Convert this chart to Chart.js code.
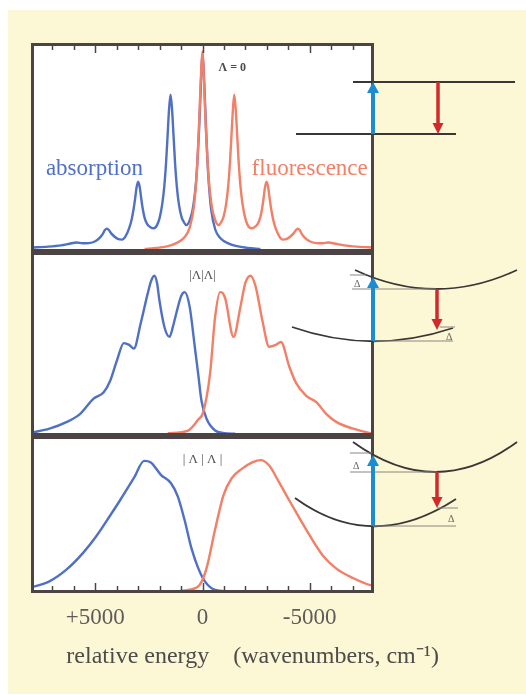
<!DOCTYPE html>
<html><head><meta charset="utf-8">
<script src="https://cdn.jsdelivr.net/npm/chart.js@4.4.1/dist/chart.umd.min.js"></script>
<style>
html,body{margin:0;padding:0;background:#fff;}
#wrap{position:relative;width:526px;height:695px;overflow:hidden;background:#fff;}
#bg{position:absolute;left:8px;top:10px;width:518px;height:684px;background:#fcf7d4;}
canvas{position:absolute;}
#c1{left:31px;top:43px;}
#c2{left:31px;top:252px;}
#c3{left:31px;top:436px;}
svg{position:absolute;left:0;top:0;}
</style></head>
<body><div id="wrap"><div id="bg"></div>
<canvas id="c1" width="343" height="209"></canvas>
<canvas id="c2" width="343" height="184"></canvas>
<canvas id="c3" width="443" height="237"></canvas>
<svg width="526" height="695" viewBox="0 0 526 695">
  <g stroke="#3a3636" stroke-width="1.8" fill="none">
    <line x1="353" y1="82" x2="515" y2="82"/>
    <line x1="296" y1="134" x2="456" y2="134"/>
    <path d="M355,270 Q436,308 517,270"/>
    <path d="M292,327 Q372,355 453,328"/>
    <path d="M353,442 Q436,502 517,442"/>
    <path d="M295,498 Q372,554 456,499"/>
  </g>
  <g stroke="#8a8680" stroke-width="1" fill="none">
    <line x1="352" y1="289" x2="436" y2="289"/>
    <line x1="350" y1="275" x2="366" y2="275"/>
    <line x1="373" y1="341" x2="453" y2="341"/>
    <line x1="440" y1="327" x2="455" y2="327"/>
    <line x1="350" y1="472" x2="437" y2="472"/>
    <line x1="350" y1="453" x2="372" y2="453"/>
    <line x1="437" y1="508" x2="458" y2="508"/>
    <line x1="373" y1="526" x2="456" y2="526"/>
  </g>
  <g font-family="Liberation Serif, serif" font-size="10" fill="#666">
    <text x="354" y="287">Δ</text>
    <text x="446" y="340">Δ</text>
    <text x="353" y="469">Δ</text>
    <text x="448" y="522">Δ</text>
  </g>
  <g stroke="#1b8cd2" stroke-width="4" fill="#1b8cd2">
    <line x1="373" y1="134" x2="373" y2="92"/>
    <polygon points="373,82 367,93 379,93" stroke="none"/>
    <line x1="373" y1="341" x2="373" y2="287"/>
    <polygon points="373,277 367,288 379,288" stroke="none"/>
    <line x1="373" y1="526" x2="373" y2="465"/>
    <polygon points="373,455 367,466 379,466" stroke="none"/>
  </g>
  <g stroke="#d3292b" stroke-width="3.5" fill="#d3292b">
    <line x1="438" y1="82" x2="438" y2="124"/>
    <polygon points="438,134 432.5,123 443.5,123" stroke="none"/>
    <line x1="437" y1="289" x2="437" y2="320"/>
    <polygon points="437,330 431.5,319 442.5,319" stroke="none"/>
    <line x1="437" y1="472" x2="437" y2="498"/>
    <polygon points="437,508 431.5,497 442.5,497" stroke="none"/>
  </g>
</svg>
</div>
<script>
// ---------- data (relative energy in cm^-1, intensity in arbitrary units 0-100) ----------
const p1AbsX = [8000,7200,6600,6200,5880,5600,5300,5000,4800,4650,4560,4460,4360,4260,4110,3950,3750,3580,3420,3300,3210,3140,3070,3000,2930,2860,2790,2700,2580,2430,2270,2120,2000,1880,1780,1700,1630,1560,1490,1420,1350,1280,1200,1100,980,870,760,650,560,470,380,300,230,160,100,50,0,-50,-100,-180,-270,-400,-590,-850,-1200,-1600,-2100,-2700];
const p1AbsY = [1.2,1.6,2.2,3,3.6,3.2,3.3,4.2,5.8,7.8,9.5,10.3,9.5,8,6.5,5.3,5,6.8,10.5,15,20,25,30.5,33,30.5,25,20,15.5,12.5,11,10.5,12,15.5,22,31,42,55,68,75,68,55,42,31,22,16,13.5,12,13,15.5,19,25,33,44,58,73,87,95,88,76,55,36,20,10,5.5,3.2,1.8,1,0.5];
const p1FluX = [2700,2100,1600,1200,850,590,400,270,180,100,50,0,-50,-100,-160,-230,-300,-380,-470,-560,-650,-760,-870,-980,-1100,-1200,-1280,-1350,-1420,-1480,-1550,-1620,-1690,-1770,-1870,-1990,-2110,-2260,-2420,-2570,-2690,-2780,-2850,-2920,-2990,-3060,-3130,-3200,-3290,-3410,-3570,-3740,-3940,-4100,-4250,-4350,-4440,-4540,-4630,-4780,-5000,-5300,-5600,-5870,-6200,-6600,-7200,-8000];
const p1FluY = [0.5,1,1.8,3.4,6,11,21,37,56,77,89,96,87,73,58,44,33,25,19,15.5,13,12,13.5,16,22,31,42,55,68,75,68,55,42,31,22,15.5,12,10.5,11,12.5,15.5,20,25,30.5,33,30.5,25,20,15,10.5,6.8,5,5.3,6.5,8,9.5,10.3,9.5,7.8,5.8,4.2,3.3,3.2,3.6,3,2.2,1.6,1.2];

const p2AbsX = [8000,7140,6350,5720,5080,4610,4300,3990,3670,3420,3200,2880,2560,2400,2250,2120,2010,1780,1540,1380,1230,990,830,600,360,200,50,-190,-590,-1000,-1530];
const p2AbsY = [0.8,3,6.6,11,19.5,23,29.5,40.5,50,49,47,61,77,84,87,83,73.5,59,53.4,59,66,76,78,70,48,33,18.5,8.5,2,0.6,0.2];
const p2FluX = [1620,670,200,-30,-350,-590,-820,-940,-1060,-1450,-1770,-2000,-2240,-2480,-2790,-3110,-3420,-3660,-4050,-4370,-4840,-5310,-5780,-6260,-7030,-7830,-8000];
const p2FluY = [0.5,2,8,12,33,64.5,78,77.5,74.5,53.4,70,83,87,81,62.5,48,49,50.6,37,28,21,17.6,11,6.6,3,0.6,0.4];

const p3AbsX = [8000,7920,7140,6350,5560,4930,4300,3830,3200,2720,2410,1940,1470,1150,830,520,200,-110,-590,-1200];
const p3AbsY = [2.8,3,6.5,14,25,36,49,59,73,84,83,75,69.6,61,45.6,28,15,6.5,1,0];
const p3FluX = [1200,670,120,-190,-590,-980,-1370,-1850,-2320,-2710,-3110,-3580,-4050,-4530,-5000,-5620,-6260,-7040,-7830,-8000];
const p3FluY = [0,1,4.5,15,40,62,73,79,83,84.5,81,70,58.5,47,36,23,14.5,8.5,4,3.5];

const majorTicks = [5000, 0, -5000];
const tickLabels = ['+5000', '0', '-5000'];
const minorTicks = [7000,6000,4000,3000,2000,1000,-1000,-2000,-3000,-4000,-6000,-7000];
const axisTitle = 'relative energy    (wavenumbers, cm\u207B\u00B9)';

// ---------- styling ----------
const BLUE = '#5070c6';
const RED = '#f27f66';
const FRAME = '#4c4444';
const SERIF = "'Liberation Serif', 'Times New Roman', serif";

function pts(xs, ys){ return xs.map((x,i)=>({x:x, y:ys[i]})); }

const framePlugin = {
  id: 'panelFrame',
  beforeDraw(chart){
    const a = chart.chartArea, ctx = chart.ctx;
    ctx.save(); ctx.fillStyle = '#ffffff';
    ctx.fillRect(a.left, a.top, a.right-a.left, a.bottom-a.top);
    ctx.restore();
  },
  afterDatasetsDraw(chart, args, opts){
    const a = chart.chartArea, ctx = chart.ctx;
    const xs = chart.scales.x, ys = chart.scales.y;
    ctx.save();
    (opts.labels||[]).forEach(l=>{
      ctx.font = l.font; ctx.fillStyle = l.color;
      ctx.textAlign = l.align || 'center'; ctx.textBaseline = l.baseline || 'alphabetic';
      ctx.fillText(l.text, xs.getPixelForValue(l.x), ys.getPixelForValue(l.y));
    });
    ctx.strokeStyle = FRAME; ctx.lineWidth = 3;
    ctx.strokeRect(a.left+1.5, a.top+1.5, a.right-a.left-3, a.bottom-a.top-3);
    ctx.lineWidth = 1.5;
    const drawTicks = (edgeY, dir)=>{
      minorTicks.forEach(v=>{ const px = Math.round(xs.getPixelForValue(v))+0.5;
        ctx.beginPath(); ctx.moveTo(px, edgeY); ctx.lineTo(px, edgeY+dir*4); ctx.stroke(); });
      majorTicks.forEach(v=>{ const px = Math.round(xs.getPixelForValue(v))+0.5;
        ctx.beginPath(); ctx.moveTo(px, edgeY); ctx.lineTo(px, edgeY+dir*7); ctx.stroke(); });
    };
    if (opts.ticksTop) drawTicks(a.top+3, 1);
    if (opts.ticksBottom) drawTicks(a.bottom-3, -1);
    ctx.restore();
  },
  afterDraw(chart, args, opts){
    if (!opts.title) return;
    const ctx = chart.ctx, xs = chart.scales.x;
    ctx.save();
    ctx.font = opts.title.font; ctx.fillStyle = opts.title.color;
    ctx.textAlign = 'center'; ctx.textBaseline = 'middle';
    ctx.fillText(opts.title.text, xs.getPixelForValue(opts.title.x), chart.chartArea.bottom + opts.title.dy);
    ctx.restore();
  }
};

function makeChart(id, abs, flu, frameOpts, showAxis){
  const xScale = {type:'linear', min:-8000, max:8000, reverse:true, display:false};
  if (showAxis){
    Object.assign(xScale, {
      display:true,
      grid:{display:false, drawTicks:false},
      border:{display:false},
      afterBuildTicks: s => { s.ticks = majorTicks.map(v=>({value:v})); },
      afterFit: s => { s.height = 80; },
      ticks:{
        padding:11,
        font:{family:SERIF, size:23},
        color:'#5e5b5b',
        callback: (v) => { const i = majorTicks.indexOf(v); return i >= 0 ? tickLabels[i] : ''; }
      }
    });
  }
  return new Chart(document.getElementById(id), {
    type:'line',
    data:{datasets:[
      {data:flu, borderColor:RED, order:0},
      {data:abs, borderColor:BLUE, order:1}
    ]},
    options:{
      responsive:false, animation:false, events:[],
      layout:{padding: showAxis ? {right:100} : 0},
      elements:{point:{radius:0}, line:{borderWidth:2.4, cubicInterpolationMode:'monotone', fill:false}},
      plugins:{legend:{display:false}, tooltip:{enabled:false}, panelFrame:frameOpts},
      scales:{ x:xScale, y:{min:-1, max:100, display:false} }
    },
    plugins:[framePlugin]
  });
}

makeChart('c1', pts(p1AbsX,p1AbsY), pts(p1FluX,p1FluY), {
  ticksTop:true,
  labels:[
    {text:'absorption', x:5040, y:36, font:'23px '+SERIF, color:BLUE},
    {text:'fluorescence', x:-5000, y:36, font:'23px '+SERIF, color:RED},
    {text:'\u039B = 0', x:-750, y:88, font:'bold 12px '+SERIF, color:'#4a4a4a', align:'left', baseline:'middle'}
  ]
}, false);

makeChart('c2', pts(p2AbsX,p2AbsY), pts(p2FluX,p2FluY), {
  labels:[
    {text:'|\u039B|\u039B|', x:0, y:87, font:'13px '+SERIF, color:'#555', baseline:'middle'}
  ]
}, false);

makeChart('c3', pts(p3AbsX,p3AbsY), pts(p3FluX,p3FluY), {
  ticksBottom:true,
  labels:[
    {text:'| \u039B | \u039B |', x:0, y:85, font:'13px '+SERIF, color:'#555', baseline:'middle'}
  ],
  title:{text:axisTitle, x:-2340, dy:64, font:'24px '+SERIF, color:'#4e4b4b'}
}, true);
</script>
</body></html>
